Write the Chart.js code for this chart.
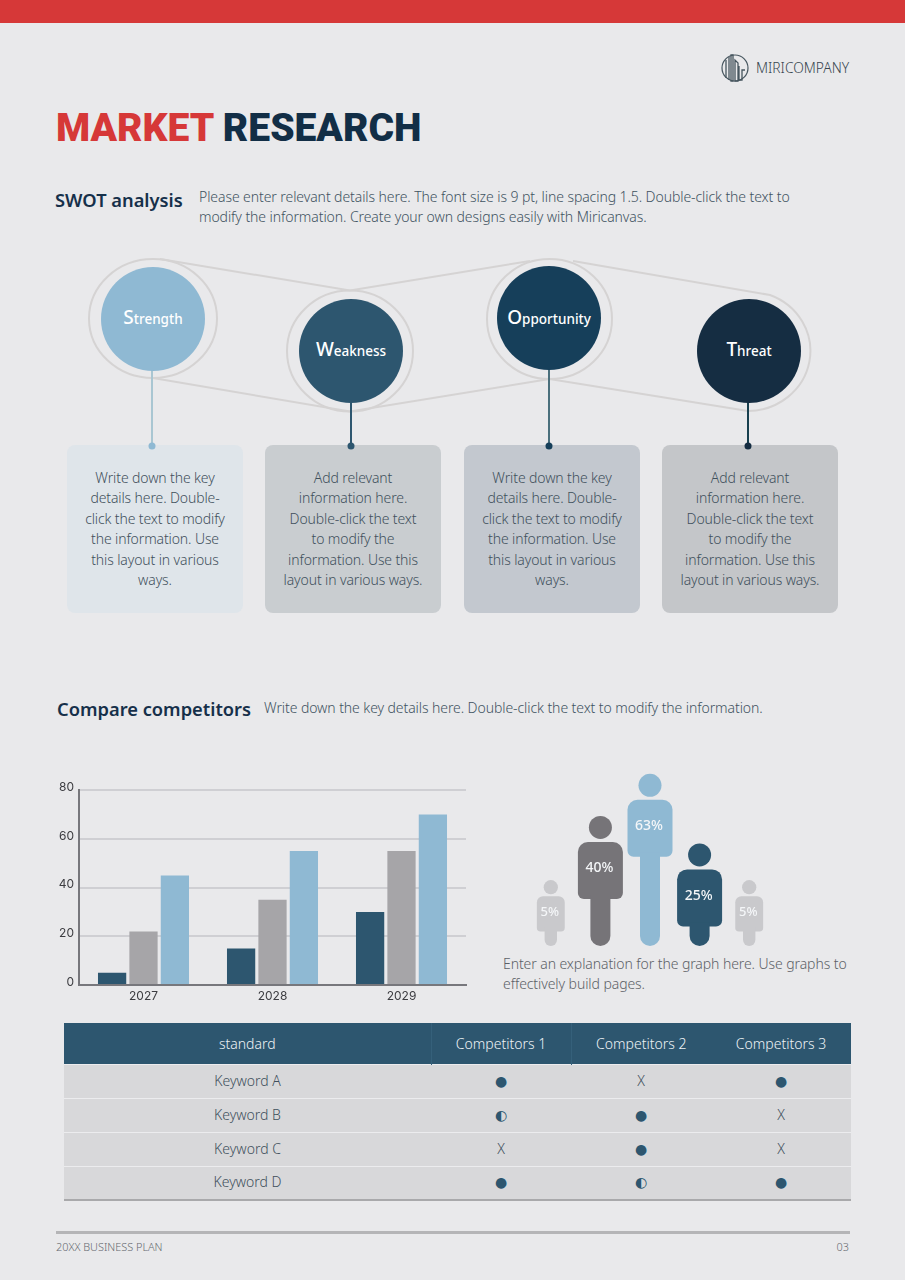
<!DOCTYPE html>
<html>
<head>
<meta charset="utf-8">
<title>Market Research</title>
<script src="https://cdn.jsdelivr.net/npm/chart.js@4"></script>
<style>
  html, body { margin: 0; padding: 0; }
  body { position: relative; width: 905px; height: 1280px; overflow: hidden; background: #e9e9eb; font-family: "Noto Sans", sans-serif; color: #4a5a66; }
  .abs { position: absolute; }
  #topbar { left: 0; top: 0; width: 905px; height: 23px; background: #d63838; }
  #title { left: 56px; top: 103px; font: 900 39px/50px Roboto, sans-serif; white-space: nowrap; color: #122e46; }
  #title span { color: #d63838; }
  .head { font-weight: 600; font-size: 18.3px; line-height: 26px; color: #16304a; white-space: nowrap; }
  .desc { font-size: 14px; font-weight: 300; letter-spacing: -0.08px; line-height: 20px; color: #3f5361; white-space: nowrap; }
  .card { top: 445px; width: 176px; height: 168px; border-radius: 8px; box-sizing: border-box; padding-top: 23px; text-align: center; font-size: 14px; font-weight: 300; letter-spacing: -0.12px; line-height: 20.4px; color: #3f505c; white-space: nowrap; }
  .node { width: 104px; height: 104px; border-radius: 50%; display: flex; align-items: center; justify-content: center; color: #fff; font-size: 13.5px; font-weight: 500; }
  .node span { margin-top: -5px; }
  .node b { font-size: 19px; font-weight: 500; }
  table { position: absolute; left: 64px; top: 1023px; width: 787px; border-collapse: collapse; table-layout: fixed; font-size: 14px; font-weight: 300; color: #3f505c; }
  th { height: 41px; padding: 0; box-sizing: border-box; background: #2d566f; color: #eef3f6; font-weight: 300; border-left: 1px solid #35607a; }
  th:first-child, th:last-child { border-left: none; }
  td { height: 34px; box-sizing: border-box; padding: 0 0 2px; background: #d8d8da; text-align: center; border-top: 1px solid #ececee; }
  tr:last-child td { border-bottom: 2px solid #a9a9ab; }
  .dot { font-family: "DejaVu Sans"; font-weight: 400; color: #2d566f; font-size: 14px; }
  #foot { left: 56px; top: 1231px; width: 794px; height: 3px; background: #b5b5b7; }
  .small { top: 1240px; font-size: 10.9px; font-weight: 300; line-height: 14px; color: #666a70; }
</style>
</head>
<body>
<div class="abs" id="topbar"></div>

<svg class="abs" style="left:720px;top:52px" width="30" height="32" viewBox="0 0 30 32">
  <circle cx="15" cy="16" r="13" fill="none" stroke="#47565f" stroke-width="1.2"/>
  <path d="M6 8V26M9 5V28M11 3V29H13V3ZM15 8V29H18V11ZM19 14V28H22V18H25" fill="none" stroke="#47565f" stroke-width="1.3"/>
</svg>
<div class="abs" style="left:756px;top:58px;font-size:13.8px;font-weight:300;line-height:20px;color:#38464f">MIRICOMPANY</div>

<div class="abs" id="title"><span>MARKET</span> RESEARCH</div>

<div class="abs head" style="left:55px;top:187px">SWOT analysis</div>
<div class="abs desc" style="left:199px;top:187px">Please enter relevant details here. The font size is 9 pt, line spacing 1.5. Double-click the text to<br>modify the information. Create your own designs easily with Miricanvas.</div>

<div class="abs card" style="left:67px;background:#dfe5ea">Write down the key<br>details here. Double-<br>click the text to modify<br>the information. Use<br>this layout in various<br>ways.</div>
<div class="abs card" style="left:265px;background:#c9cdd0">Add relevant<br>information here.<br>Double-click the text<br>to modify the<br>information. Use this<br>layout in various ways.</div>
<div class="abs card" style="left:464px;background:#c3c8cf">Write down the key<br>details here. Double-<br>click the text to modify<br>the information. Use<br>this layout in various<br>ways.</div>
<div class="abs card" style="left:662px;background:#c4c6c9">Add relevant<br>information here.<br>Double-click the text<br>to modify the<br>information. Use this<br>layout in various ways.</div>

<svg class="abs" style="left:0;top:240px" width="905" height="220" viewBox="0 240 905 220" fill="none">
  <g stroke="#d5d3d3" stroke-width="2">
    <ellipse cx="153" cy="318.5" rx="64" ry="59.5"/>
    <ellipse cx="350" cy="351" rx="63" ry="60.5"/>
    <ellipse cx="549.5" cy="319" rx="62.5" ry="60"/>
    <path d="M160 259L350 290.5L530 261"/>
    <path d="M153 378L350 411.5L549.5 379L748 411"/>
    <path d="M573 261L770 295A63 60 0 0 1 748 411"/>
  </g>
  <g stroke-width="2">
    <path d="M152 368V446" stroke="#a9c6d2"/>
    <path d="M351 400V446" stroke="#2d566f"/>
    <path d="M549 368V446" stroke="#4a6f7c"/>
    <path d="M748 400V446" stroke="#173f4e"/>
  </g>
  <circle cx="152" cy="446" r="3.5" fill="#8fb9d3"/>
  <circle cx="351" cy="446" r="3.5" fill="#2d566f"/>
  <circle cx="549" cy="446" r="3.5" fill="#163f5a"/>
  <circle cx="748" cy="446" r="3.5" fill="#152d42"/>
</svg>
<div class="abs node" style="left:101px;top:267px;background:#8fb9d3"><span><b>S</b>trength</span></div>
<div class="abs node" style="left:299px;top:299px;background:#2d566f"><span><b>W</b>eakness</span></div>
<div class="abs node" style="left:497px;top:266px;background:#163f5a"><span style="margin-top:-2px"><b>O</b>pportunity</span></div>
<div class="abs node" style="left:697px;top:299px;background:#152d42"><span><b>T</b>hreat</span></div>

<div class="abs head" style="left:57px;top:696px">Compare competitors</div>
<div class="abs desc" style="left:264px;top:698px">Write down the key details here. Double-click the text to modify the information.</div>

<div class="abs" style="left:50px;top:778px"><canvas id="barChart" width="420" height="227"></canvas></div>
<div class="abs" style="left:526px;top:761px"><canvas id="figureChart" width="248" height="185"></canvas></div>
<div class="abs desc" style="left:503px;top:954px;color:#5c6167">Enter an explanation for the graph here. Use graphs to<br>effectively build pages.</div>

<table id="compare"></table>

<div class="abs" id="foot"></div>
<div class="abs small" style="left:56px">20XX BUSINESS PLAN</div>
<div class="abs small" style="right:56px">03</div>

<script>
const years = ['2027', '2028', '2029'];
const seriesOne = [5, 15, 30];
const seriesTwo = [22, 35, 55];
const seriesThree = [45, 55, 70];
const yTicks = [0, 20, 40, 60, 80];

const figureShares = [5, 40, 63, 25, 5];
const figureColors = ['#c9c9cc', '#767478', '#8fb9d3', '#2d566f', '#c9c9cc'];

const tableHeaders = ['standard', 'Competitors 1', 'Competitors 2', 'Competitors 3'];
const tableKeywords = ['Keyword A', 'Keyword B', 'Keyword C', 'Keyword D'];
const tableMarks = [
  ['●', 'X', '●'],
  ['◐', '●', 'X'],
  ['X', '●', 'X'],
  ['●', '◐', '●']
];

Chart.defaults.animation = false;
Chart.defaults.font.family = 'Inter, sans-serif';

// Bar chart
new Chart(document.getElementById('barChart'), {
  type: 'bar',
  data: {
    labels: years,
    datasets: [
      { data: seriesOne, backgroundColor: '#2d566f' },
      { data: seriesTwo, backgroundColor: '#a6a5a8' },
      { data: seriesThree, backgroundColor: '#8fb9d3' }
    ]
  },
  options: {
    responsive: false,
    layout: { padding: { right: 4 } },
    plugins: { legend: { display: false }, tooltip: { enabled: false } },
    datasets: { bar: { categoryPercentage: 0.73, barPercentage: 0.9 } },
    scales: {
      x: {
        grid: { display: false, drawTicks: false },
        border: { color: '#77777c', width: 2 },
        ticks: { color: '#3c3c40', font: { size: 12 }, padding: 4 },
        afterFit: scale => { scale.height = 20; }
      },
      y: {
        min: 0,
        max: 80,
        afterBuildTicks: scale => { scale.ticks = yTicks.map(v => ({ value: v })); },
        grid: { color: '#cfcfd3', lineWidth: 2, drawTicks: false },
        border: { color: '#77777c', width: 2 },
        ticks: { color: '#3c3c40', font: { size: 12 }, padding: 5, labelOffset: -3 },
        afterFit: scale => { scale.width = 29; }
      }
    }
  }
});

// Person figure standing on each bar of the second chart
const personPlugin = {
  id: 'person',
  afterDatasetsDraw(chart) {
    const c = chart.ctx;
    chart.getDatasetMeta(0).data.forEach((bar, i) => {
      const k = figureShares[i] < 10 ? 0.62 : 1;
      const top = bar.y;
      const x = bar.x;
      const bottom = bar.base;
      const headR = 11.5 * k;
      const bodyTop = top + 26 * k;
      const bodyW = 45 * k;
      const bodyH = 57 * k;
      const legW = 20 * k;
      c.save();
      c.fillStyle = figureColors[i];
      c.beginPath();
      c.arc(x, top + headR, headR, 0, Math.PI * 2);
      c.fill();
      c.beginPath();
      c.roundRect(x - bodyW / 2, bodyTop, bodyW, bodyH, [10 * k, 10 * k, 6 * k, 6 * k]);
      c.fill();
      c.beginPath();
      c.roundRect(x - legW / 2, bodyTop + bodyH - 4, legW, bottom - bodyTop - bodyH + 4, [0, 0, legW / 2, legW / 2]);
      c.fill();
      c.fillStyle = '#f4f6f8';
      c.font = (k < 1 ? '500 13px' : '500 14px') + ' "Noto Sans", sans-serif';
      c.textAlign = 'center';
      c.textBaseline = 'middle';
      c.fillText(figureShares[i] + '%', x - 1, bodyTop + bodyH / 2 - 2);
      c.restore();
    });
  }
};

new Chart(document.getElementById('figureChart'), {
  type: 'bar',
  data: {
    labels: figureShares.map(v => v + '%'),
    datasets: [{ data: figureShares, base: -31, backgroundColor: 'transparent' }]
  },
  options: {
    responsive: false,
    plugins: { legend: { display: false }, tooltip: { enabled: false } },
    scales: {
      x: { display: false },
      y: { display: false, min: -31, max: 70 }
    }
  },
  plugins: [personPlugin]
});

// Comparison table
const table = document.getElementById('compare');
const colWidths = [367, 140, 140, 140];
let html = '<colgroup>' + colWidths.map(w => `<col style="width:${w}px">`).join('') + '</colgroup>';
html += '<tr>' + tableHeaders.map(h => `<th>${h}</th>`).join('') + '</tr>';
tableKeywords.forEach((name, r) => {
  html += `<tr><td>${name}</td>` + tableMarks[r].map(m =>
    m === 'X' ? '<td>X</td>' : `<td><span class="dot">${m}</span></td>`).join('') + '</tr>';
});
table.innerHTML = html;
</script>
</body>
</html>
